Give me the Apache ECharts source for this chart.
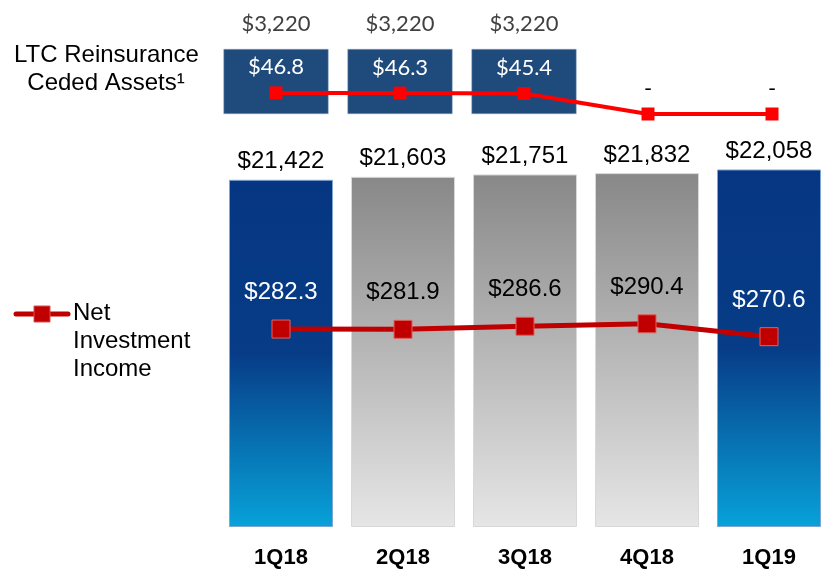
<!DOCTYPE html>
<html>
	<head>
		<meta charset="UTF-8">
		<title></title>
		<style>
			body { margin: 0; background: #fff; }
		</style>
	</head>
	<script src="https://cdn.jsdelivr.net/npm/echarts@6.0.0/dist/echarts.min.js"></script>
	<body>
		<div id="main" style="width: 823px;height:570px;"></div>
	</body>
	<script>
		// data
		var quarters = ['1Q18', '2Q18', '3Q18', '4Q18', '1Q19']
		var cededAssets = [3220, 3220, 3220, null, null]
		var cededIncome = [46.8, 46.3, 45.4, 0, 0]
		var investedAssets = [21422, 21603, 21751, 21832, 22058]
		var netInvestmentIncome = [282.3, 281.9, 286.6, 290.4, 270.6]
		// which quarters get the blue bar
		var highlight = [true, false, false, false, true]

		var myChart = echarts.init(document.getElementById('main'));

		var arial = '"Liberation Sans", Arial, sans-serif'
		var calibri = 'Lato, "Open Sans", sans-serif'

		function money (v) {
			return '$' + v.toLocaleString('en-US')
		}

		var blueFill = new echarts.graphic.LinearGradient(0, 0, 0, 1, [
			{ offset: 0, color: '#063681' },
			{ offset: 0.5, color: '#073c87' },
			{ offset: 1, color: '#07a2d9' }
		])
		var greyFill = new echarts.graphic.LinearGradient(0, 0, 0, 1, [
			{ offset: 0, color: '#888888' },
			{ offset: 1, color: '#e6e6e6' }
		])

		var bigBars = investedAssets.map(function (v, i) {
			return {
				value: v,
				itemStyle: highlight[i]
					? { color: blueFill, borderColor: '#7fa6d0', borderWidth: 1 }
					: { color: greyFill, borderColor: '#d8d8d8', borderWidth: 1 }
			}
		})

		var nii = netInvestmentIncome.map(function (v, i) {
			return { value: v, label: { color: highlight[i] ? '#ffffff' : '#000000' } }
		})

		// zero quarters show a dark dash
		var ltc = cededIncome.map(function (v) {
			return v ? v : { value: v, label: { color: '#000' } }
		})

		var option = {
			animation: false,
			grid: [
				{ left: 214, width: 620, top: 49, height: 65, outerBoundsMode: 'none' },
				{ left: 220, width: 610, top: 138, height: 389, outerBoundsMode: 'none' }
			],
			xAxis: [
				{ type: 'category', gridIndex: 0, data: quarters, show: false },
				{
					type: 'category', gridIndex: 1, data: quarters,
					axisLine: { show: false }, axisTick: { show: false },
					axisLabel: { margin: 20, fontFamily: arial, fontWeight: 'bold', fontSize: 22, color: '#000' }
				}
			],
			yAxis: [
				{ type: 'value', gridIndex: 0, min: 0, max: 3220, show: false },
				{ type: 'value', gridIndex: 0, min: 0, max: 144, show: false },
				{ type: 'value', gridIndex: 1, min: 0, max: 24000, show: false },
				{ type: 'value', gridIndex: 1, min: -22, max: 576, show: false }
			],
			series: [
				{
					type: 'bar', xAxisIndex: 0, yAxisIndex: 0,
					data: cededAssets, barWidth: 105,
					itemStyle: { color: '#1f4a7c', borderColor: '#8ea6c4', borderWidth: 0.5 },
					label: {
						show: true, position: 'top', distance: 14,
						fontFamily: calibri, fontSize: 22, color: '#404040',
						formatter: function (p) { return money(p.value) }
					}
				},
				{
					type: 'line', xAxisIndex: 0, yAxisIndex: 1,
					data: ltc,
					lineStyle: { color: '#ff0000', width: 4 },
					symbol: 'rect', symbolSize: 13,
					itemStyle: { color: '#ff0000' },
					label: {
						show: true, position: 'top', distance: 8,
						fontFamily: calibri, fontSize: 22, color: '#ffffff',
						formatter: function (p) { return p.value ? '$' + p.value.toFixed(1) : '-' }
					},
					z: 5
				},
				{
					type: 'bar', xAxisIndex: 1, yAxisIndex: 2,
					data: bigBars, barWidth: 104,
					label: {
						show: true, position: 'top', distance: 6,
						fontFamily: arial, fontSize: 24, color: '#000',
						formatter: function (p) { return money(p.value) }
					}
				},
				{
					type: 'line', xAxisIndex: 1, yAxisIndex: 3,
					data: nii,
					lineStyle: { color: '#c00000', width: 5 },
					symbol: 'rect', symbolSize: 18,
					itemStyle: { color: '#c00000', borderColor: '#e06060', borderWidth: 1 },
					label: {
						show: true, position: 'top', distance: 15,
						fontFamily: arial, fontSize: 24,
						formatter: function (p) { return '$' + p.value.toFixed(1) }
					},
					z: 5
				}
			],
			graphic: [
				{
					type: 'text', left: 14, top: 41,
					style: {
						text: 'LTC Reinsurance\n  Ceded Assets¹',
						font: '24px ' + arial, lineHeight: 28, fill: '#000'
					}
				},
				{
					type: 'line',
					shape: { x1: 16, y1: 314, x2: 68, y2: 314 },
					style: { stroke: '#c00000', lineWidth: 5, lineCap: 'round' }
				},
				{
					type: 'rect',
					shape: { x: 34, y: 306, width: 16, height: 16 },
					style: { fill: '#c00000', stroke: '#d85050', lineWidth: 1 }
				},
				{
					type: 'text', left: 73, top: 299,
					style: {
						text: 'Net\nInvestment\nIncome',
						font: '24px ' + arial, lineHeight: 28, fill: '#000'
					}
				}
			]
		};

		myChart.setOption(option);
	</script>
</html>
